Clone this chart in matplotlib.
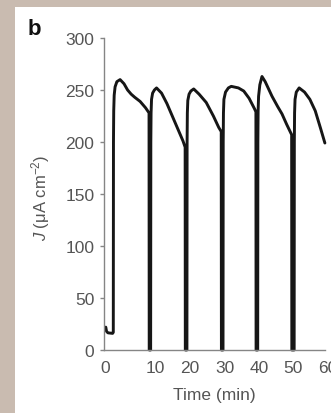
import matplotlib
matplotlib.use("Agg")
import matplotlib.pyplot as plt
from matplotlib.patches import Rectangle
from matplotlib.transforms import ScaledTranslation

plt.rcParams["font.family"] = ["Liberation Sans", "DejaVu Sans"]
plt.rcParams["mathtext.fontset"] = "custom"
plt.rcParams["mathtext.rm"] = "Liberation Sans"
plt.rcParams["mathtext.it"] = "Liberation Sans:italic"

# Chronoamperometric current density under chopped illumination
# (light on ~10 min, then switched off for a moment)
time_min = [
    -2.1, -1.9, -1.5, -0.2, 0.0,
    0.05, 0.12, 0.25, 0.5, 1.0, 1.9, 3.0, 4.0, 5.0, 6.0, 7.5, 9.0, 10.0, 10.05,
    10.45, 10.5, 10.57, 10.7, 11.0, 11.5, 12.1, 13.5, 15.0, 16.5, 18.0, 19.5, 20.1, 20.15,
    20.6, 20.65, 20.72, 20.85, 21.2, 21.7, 22.5, 24.0, 26.0, 28.0, 29.5, 30.2, 30.25,
    30.7, 30.75, 30.82, 30.95, 31.4, 32.2, 33.0, 35.0, 36.5, 38.0, 39.5, 39.9, 39.95,
    40.4, 40.45, 40.52, 40.65, 41.0, 41.6, 42.5, 44.4, 46.0, 47.2, 48.5, 49.9, 49.95,
    50.6, 50.65, 50.72, 50.85, 51.2, 52.0, 53.5, 55.0, 56.5, 58.0, 59.2,
]
current_density = [
    22, 18, 16.5, 16, 17,
    200, 230, 245, 253, 258, 260, 256, 250, 246, 243, 239, 233, 228, 0,
    0, 200, 228, 241, 247, 250, 252, 247, 237, 225, 213, 201, 195, 0,
    0, 200, 228, 240, 246, 249, 251, 246, 238, 225, 214, 210, 0,
    0, 200, 228, 241, 248, 252, 253.5, 252, 249, 242, 232, 229, 0,
    0, 200, 230, 244, 255, 263, 258, 244, 234, 227, 217, 207, 0,
    0, 200, 228, 241, 248, 252, 248, 241, 230, 213, 199,
]

x_ticks = [0, 10, 20, 30, 40, 50, 60]
x_tick_labels = ["0", "10", "20", "30", "40", "50", "60"]
y_ticks = [0, 50, 100, 150, 200, 250, 300]

W, H, DPI = 331, 414, 100
fig = plt.figure(figsize=(W / DPI, H / DPI), dpi=DPI)
fig.patch.set_facecolor("#c9bbb0")
fig.patches.append(Rectangle((15 / W, 0), 1, (H - 8) / H, transform=fig.transFigure,
                             facecolor="white", edgecolor="none", zorder=-10))

ax = fig.add_axes([104 / W, (H - 351) / H, (327.75 - 104) / W, (351 - 39) / H])
ax.set_zorder(5)
ax.set_facecolor("none")
ax.plot(time_min, current_density, color="#161616", lw=2.1,
        solid_joinstyle="round", solid_capstyle="round", clip_on=False)

ax.set_xlim(-2.6, 60)
ax.set_ylim(0, 300)
for s in ("top", "right"):
    ax.spines[s].set_visible(False)
for s in ("left", "bottom"):
    ax.spines[s].set_color("#858585")
    ax.spines[s].set_linewidth(1.0)
ax.spines["bottom"].set_bounds(-2.6, 59.2)

ax.set_xticks(x_ticks)
ax.set_xticklabels(x_tick_labels)
ax.set_yticks(y_ticks)
ax.tick_params(axis="x", length=0, pad=7.0, labelsize=12.5, labelcolor="#555555")
ax.tick_params(axis="y", length=3, width=1.0, color="#858585", pad=4.0,
               labelsize=12.5, labelcolor="#555555")

label_shift_px = [-8, 6, 5, 4, 3, 1, 0]
for lab, dx in zip(ax.get_xticklabels(), label_shift_px):
    lab.set_transform(lab.get_transform() + ScaledTranslation(dx / DPI, 0, fig.dpi_scale_trans))

ax.set_xlabel("Time (min)", fontsize=12.5, color="#555555", va="center")
ax.xaxis.set_label_coords((214 - 104) / (327.75 - 104), (351 - 396) / 312)
ax.set_ylabel(r"$J$ (μA cm$^{-2}$)", fontsize=12, color="#555555", va="center")
ax.yaxis.set_label_coords((41 - 104) / (327.75 - 104), (351 - 198) / 312)

fig.text(28 / W, (H - 35) / H, "b", fontsize=16, fontweight="bold",
         color="#111111", ha="left", va="baseline")

fig.savefig("out.png", dpi=DPI)
